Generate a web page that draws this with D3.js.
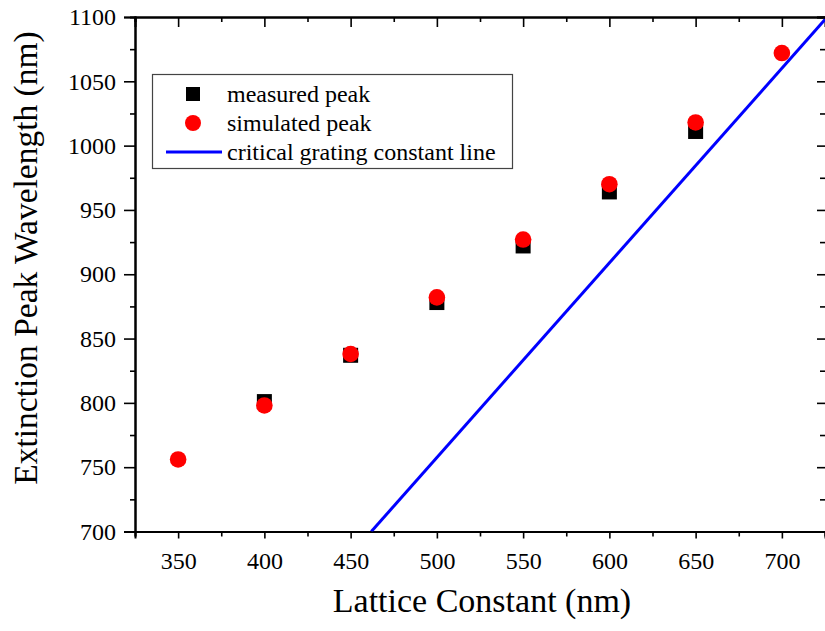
<!DOCTYPE html>
<html>
<head>
<meta charset="utf-8">
<script src="https://cdn.jsdelivr.net/npm/d3@7"></script>
<style>
  body { margin: 0; background: #fff; }
  svg text { font-family: "Liberation Serif", "Times New Roman", serif; fill: #000; }
</style>
</head>
<body>
<svg id="chart" width="825" height="631"></svg>
<script>
// values
const measuredX = [400, 450, 500, 550, 600, 650];
const measuredY = [801, 837, 878, 922, 964, 1011];
const simulatedX = [350, 400, 450, 500, 550, 600, 650, 700];
const simulatedY = [756, 798, 838, 882, 927, 970, 1018, 1072];
// critical grating constant line, two end points
const criticalX = [462, 725];
const criticalY = [700, 1098];
const xTicks = [350, 400, 450, 500, 550, 600, 650, 700];
const yTicks = [700, 750, 800, 850, 900, 950, 1000, 1050, 1100];

const svg = d3.select('#chart');
const box = { left: 135, right: 825, top: 17, bottom: 531.5 };

const x = d3.scaleLinear().domain([325, 725]).range([box.left, box.right]);
const y = d3.scaleLinear().domain([700, 1100]).range([box.bottom, box.top]);

// clip for the data
svg.append('clipPath').attr('id', 'clip')
    .append('rect').attr('x', box.left).attr('y', box.top)
    .attr('width', box.right - box.left).attr('height', box.bottom - box.top);

const minorX = d3.range(325, 726, 25).filter(v => !xTicks.includes(v));
const minorY = d3.range(725, 1100, 50);

// bottom axis (ticks outward)
const gx = svg.append('g').attr('transform', `translate(0,${box.bottom})`);
gx.call(d3.axisBottom(x).tickValues(xTicks).tickSize(7).tickPadding(13).tickFormat(d3.format('d')));
gx.append('g').call(d3.axisBottom(x).tickValues(minorX).tickSize(5).tickFormat(''));

// left axis (ticks outward)
const gy = svg.append('g').attr('transform', `translate(${box.left},0)`);
gy.call(d3.axisLeft(y).tickValues(yTicks).tickSize(11).tickPadding(8).tickFormat(d3.format('d')));
gy.append('g').call(d3.axisLeft(y).tickValues(minorY).tickSize(5).tickFormat(''));

// top mirror axis (ticks inward)
const gt = svg.append('g').attr('transform', `translate(0,${box.top})`);
gt.call(d3.axisBottom(x).tickValues(xTicks).tickSize(10).tickFormat(''));
gt.append('g').call(d3.axisBottom(x).tickValues(minorX).tickSize(5).tickFormat(''));

// right mirror axis (ticks inward), its line sits just past the edge
const gr = svg.append('g').attr('transform', `translate(${box.right + 1},0)`);
gr.call(d3.axisLeft(y).tickValues(yTicks).tickSize(9).tickFormat(''));
gr.append('g').call(d3.axisLeft(y).tickValues(minorY).tickSize(6).tickFormat(''));

svg.selectAll('.domain').attr('stroke', '#000').attr('stroke-width', 2);
svg.selectAll('.tick line').attr('stroke', '#000').attr('stroke-width', 1.6);
svg.selectAll('.tick text')
    .style('font-family', '"Liberation Serif", "Times New Roman", serif')
    .style('font-size', '24px');

// axis titles
svg.append('text')
    .attr('x', 482).attr('y', 612)
    .attr('text-anchor', 'middle')
    .style('font-size', '34px')
    .text('Lattice Constant (nm)');

svg.append('text')
    .attr('transform', `translate(37,258) rotate(-90)`)
    .attr('text-anchor', 'middle')
    .style('font-size', '33.5px')
    .text('Extinction Peak Wavelength (nm)');

const plot = svg.append('g').attr('clip-path', 'url(#clip)');

// critical line
const line = d3.line().x(d => x(d[0])).y(d => y(d[1]));
plot.append('path')
    .datum(d3.zip(criticalX, criticalY))
    .attr('d', line)
    .attr('fill', 'none')
    .attr('stroke', '#0000ff')
    .attr('stroke-width', 3);

// measured peaks (squares)
const sq = 15;
svg.selectAll('rect.measured')
    .data(d3.zip(measuredX, measuredY))
    .join('rect')
    .attr('class', 'measured')
    .attr('x', d => x(d[0]) - sq / 2)
    .attr('y', d => y(d[1]) - sq / 2)
    .attr('width', sq).attr('height', sq)
    .attr('fill', '#000');

// simulated peaks (circles)
svg.selectAll('circle.simulated')
    .data(d3.zip(simulatedX, simulatedY))
    .join('circle')
    .attr('class', 'simulated')
    .attr('cx', d => x(d[0]))
    .attr('cy', d => y(d[1]))
    .attr('r', 8.3)
    .attr('fill', '#ff0000');

// legend
const legend = svg.append('g');
legend.append('rect')
    .attr('x', 152.5).attr('y', 74.5).attr('width', 360).attr('height', 94)
    .attr('fill', '#fff').attr('stroke', '#444').attr('stroke-width', 1.2);

legend.append('rect').attr('x', 193 - 7).attr('y', 94 - 7).attr('width', 14).attr('height', 14).attr('fill', '#000');
legend.append('circle').attr('cx', 193).attr('cy', 123).attr('r', 8).attr('fill', '#ff0000');
legend.append('line').attr('x1', 166).attr('x2', 222).attr('y1', 152).attr('y2', 152)
    .attr('stroke', '#0000ff').attr('stroke-width', 3);

const labels = ['measured peak', 'simulated peak', 'critical grating constant line'];
legend.selectAll('text.lab')
    .data(labels)
    .join('text')
    .attr('class', 'lab')
    .attr('x', 227)
    .attr('y', (d, i) => 102 + i * 29)
    .style('font-size', '24px')
    .text(d => d);
</script>
</body>
</html>
